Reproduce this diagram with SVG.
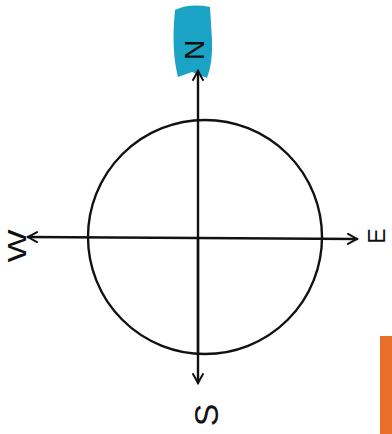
<svg xmlns="http://www.w3.org/2000/svg" width="392" height="434" viewBox="0 0 392 434">
<defs>
<style>
.ax{stroke:#111;stroke-width:2.4;fill:none;stroke-linecap:round}
.lbl{font-family:"Liberation Sans",Arial,sans-serif;fill:#111;text-anchor:middle;dominant-baseline:central}
</style>
<marker id="ah" viewBox="0 0 12 12" refX="10" refY="6" markerWidth="12" markerHeight="12" markerUnits="userSpaceOnUse" orient="auto">
<path d="M1,1 L10,6 L1,11" fill="none" stroke="#111" stroke-width="2" stroke-linecap="round"/>
</marker>
</defs>
<rect width="392" height="434" fill="#fff"/>
<path d="M175,10 Q190,3 210,7 L212,40 Q213,62 207,78 L192,72 L178,77 Q171,50 175,10 Z" fill="#1aa3c4"/>
<rect x="380" y="336" width="12" height="98" fill="#e8702a"/>
<g id="connectors">
<line class="ax" x1="198" y1="355" x2="198" y2="71" marker-end="url(#ah)"/>
<line class="ax" x1="198" y1="238" x2="198" y2="383" marker-end="url(#ah)"/>
<line class="ax" x1="198" y1="238" x2="28" y2="237" marker-end="url(#ah)"/>
<line class="ax" x1="198" y1="238" x2="357" y2="239" marker-end="url(#ah)"/>
</g>
<g id="circle">
<ellipse class="ax" cx="205" cy="237" rx="117" ry="117"/>
</g>
<g id="north"><text class="lbl" font-size="28" transform="translate(194,50) rotate(-90)">N</text></g>
<g id="west"><text class="lbl" font-size="26" transform="translate(17,246) rotate(-90) scale(1.35,1)">W</text></g>
<g id="east"><text class="lbl" font-size="23" transform="translate(377,236) rotate(-90)">E</text></g>
<g id="south"><text class="lbl" font-size="34" transform="translate(206,415) rotate(-90)">S</text></g>
</svg>
